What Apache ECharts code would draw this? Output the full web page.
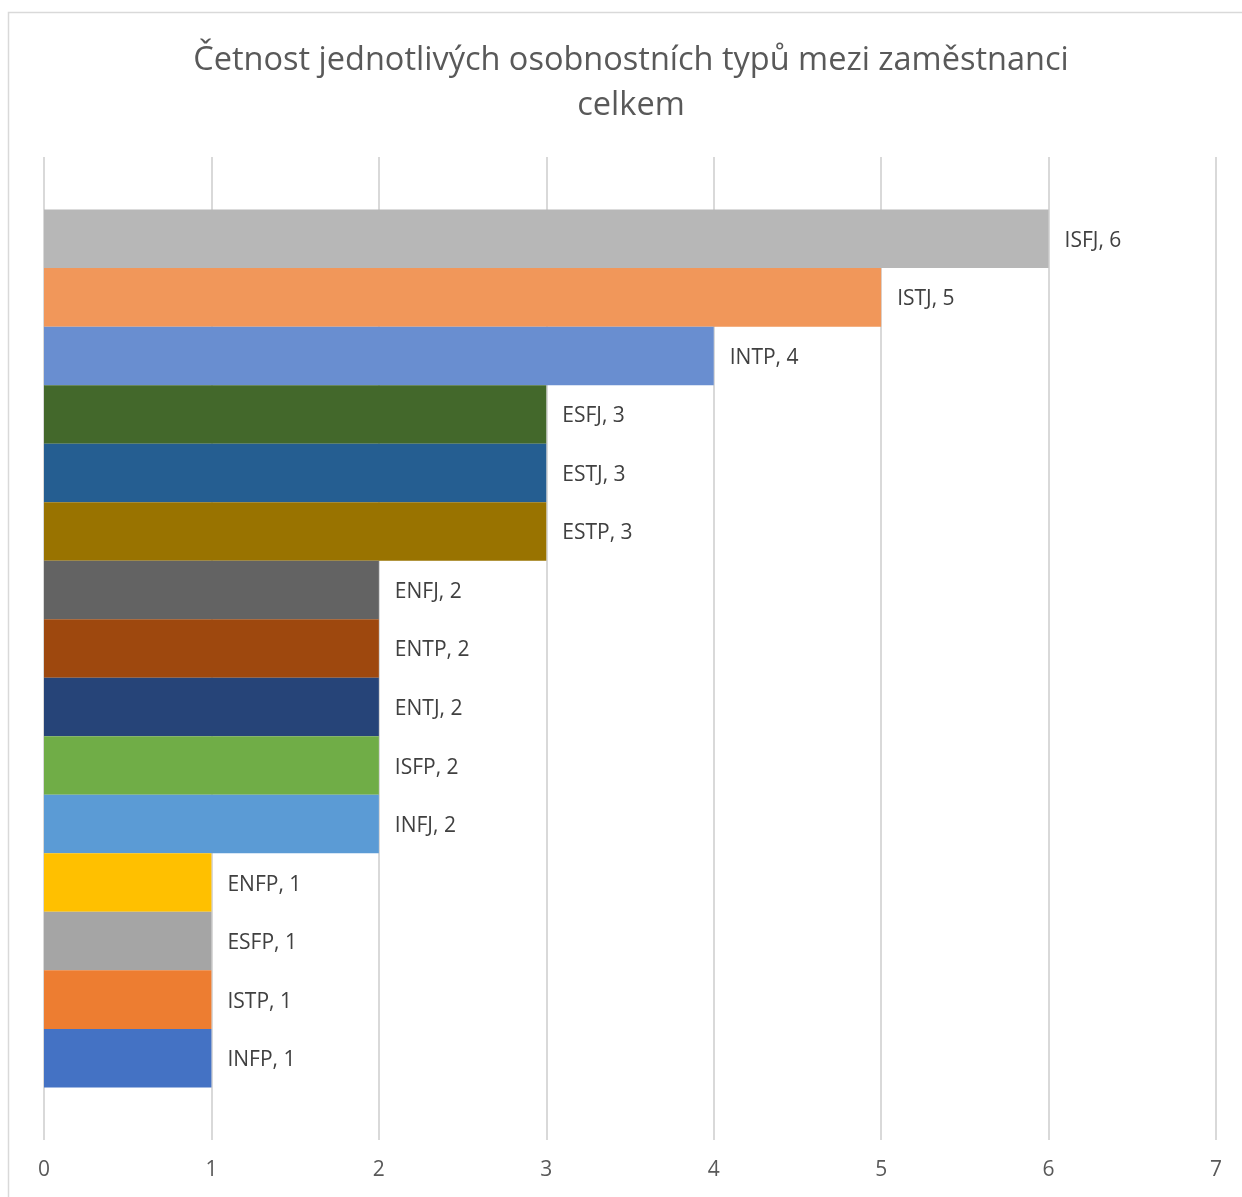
<!DOCTYPE html>
<html>
<head>
<meta charset="utf-8">
<script src="https://cdn.jsdelivr.net/npm/echarts@6/dist/echarts.min.js"></script>
<style>
html,body{margin:0;padding:0;background:#fff;}
#chart{width:1242px;height:1197px;}
</style>
</head>
<body>
<div id="chart"></div>
<script>
// top to bottom order
const types = ['ISFJ','ISTJ','INTP','ESFJ','ESTJ','ESTP','ENFJ','ENTP','ENTJ','ISFP','INFJ','ENFP','ESFP','ISTP','INFP'];
const counts = [6,5,4,3,3,3,2,2,2,2,2,1,1,1,1];
const colors = ['#B7B7B7','#F1975A','#698ED0','#43682B','#255E91','#997300','#636363','#9E480E','#264478','#70AD47','#5B9BD5','#FFC000','#A5A5A5','#ED7D31','#4472C4'];
const xTicks = [0,1,2,3,4,5,6,7];
const titleText = 'Četnost jednotlivých osobnostních typů mezi zaměstnanci\ncelkem';

const FONT = '"Open Sans", "Noto Sans", sans-serif';
const chart = echarts.init(document.getElementById('chart'));
const series = types.map((t, i) => ({
  name: t,
  type: 'bar',
  data: [counts[i]],
  barGap: '0%',
  barCategoryGap: '10.7%',
  itemStyle: { color: colors[i] },
  label: {
    show: true,
    position: 'right',
    distance: 16,
    offset: [0, 2],
    formatter: p => p.seriesName + ', ' + p.value,
    color: '#404040',
    fontSize: 21,
    fontFamily: FONT
  },
  animation: false
}));

chart.setOption({
  animation: false,
  graphic: [{
    type: 'rect',
    shape: { x: 8.5, y: 12.5, width: 1300, height: 1300 },
    style: { fill: 'none', stroke: '#d9d9d9', lineWidth: 1.5 },
    silent: true,
    z: -10
  }],
  title: {
    text: titleText,
    left: 626,
    top: 33,
    textAlign: 'center',
    textStyle: {
      color: '#595959',
      fontSize: 32.5,
      fontWeight: 'normal',
      fontFamily: FONT,
      lineHeight: 45
    }
  },
  grid: { left: 44, right: 26, top: 157, bottom: 57, containLabel: false },
  xAxis: {
    type: 'value',
    min: 0,
    max: 7,
    interval: 1,
    axisLine: { show: false },
    axisTick: { show: false },
    splitLine: { show: true, lineStyle: { color: '#d9d9d9', width: 2 } },
    axisLabel: {
      color: '#595959',
      fontSize: 21,
      fontFamily: FONT,
      margin: 20,
      formatter: v => xTicks.includes(v) ? String(v) : ''
    }
  },
  yAxis: {
    type: 'category',
    data: [''],
    inverse: true,
    axisLine: { show: false },
    axisTick: { show: false },
    axisLabel: { show: false },
    splitLine: { show: false }
  },
  series: series
});
</script>
</body>
</html>
